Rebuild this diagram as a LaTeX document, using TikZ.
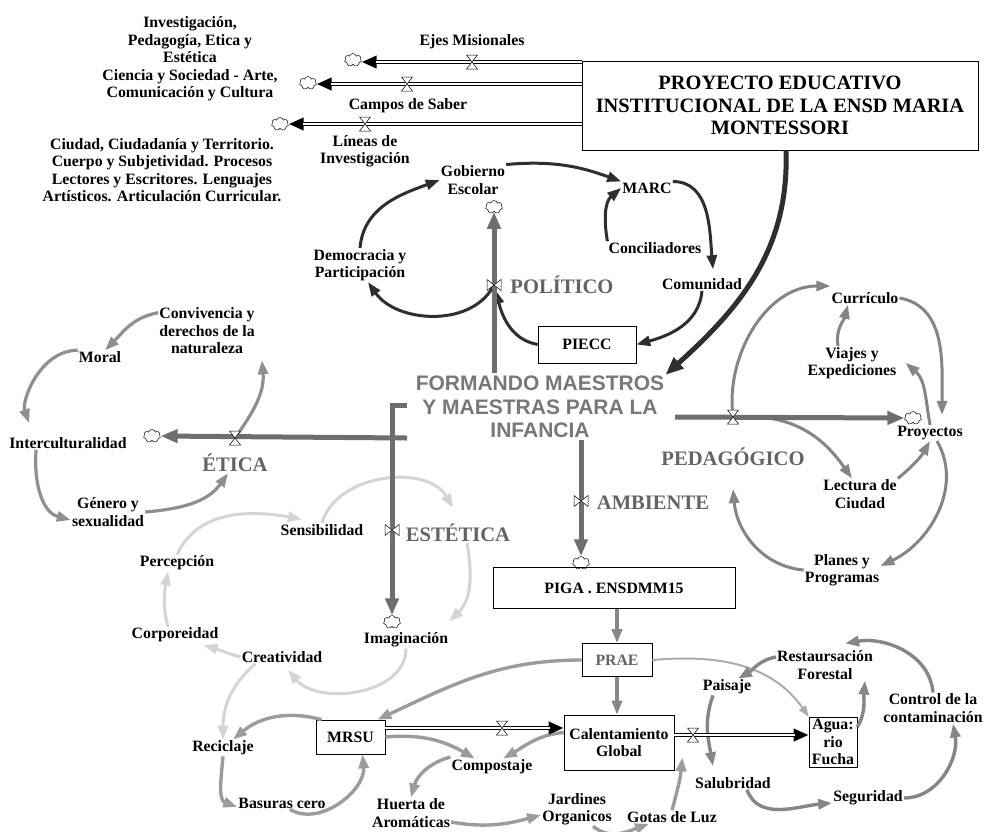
\documentclass[tikz,border=0pt]{standalone}
\usepackage{fontspec}
\setmainfont{Liberation Serif}
\newfontfamily\arialfont{Liberation Sans}
\usetikzlibrary{arrows.meta,shapes.symbols}

\definecolor{polc}{HTML}{2E2E2E}
\definecolor{pipeg}{HTML}{6E6E6E}
\definecolor{secg}{HTML}{646464}
\definecolor{mainc}{HTML}{787878}
\definecolor{etic}{HTML}{8F8F8F}
\definecolor{estc}{HTML}{D4D4D4}
\definecolor{pedc}{HTML}{858585}
\definecolor{botc}{HTML}{9C9C9C}
\definecolor{botd}{HTML}{868686}
\definecolor{lightc}{HTML}{ABABAB}

\begin{document}
\begin{tikzpicture}[x=1pt,y=1pt]
  \tikzset{
    lbl/.style={font=\bfseries\fontsize{15.8}{17.5}\selectfont, align=center, inner sep=1pt},
    seclbl/.style={font=\bfseries\fontsize{20.6}{22}\selectfont, text=secg, inner sep=1pt},
    stock/.style={draw, line width=0.6pt, font=\bfseries\fontsize{15.8}{17.5}\selectfont, align=center, inner sep=1pt},
    cloudy/.style={cloud, cloud puffs=7, draw, line width=0.5pt, fill=white, minimum width=17pt, minimum height=13pt, inner sep=0pt, aspect=1.4},
    pipe/.style={line width=3.6pt, -{Triangle[length=15pt,width=12pt]}, postaction={draw=white, line width=1.6pt, -, shorten >=14pt}},
    mflow/.style={color=pipeg, line width=5pt, -{Triangle[length=17pt,width=13pt]}},
    pol/.style={color=polc, line width=3pt, -{Triangle[length=14pt,width=10pt]}},
    peiarr/.style={color=polc, line width=5pt, -{Triangle[length=18pt,width=14pt]}},
    eti/.style={color=etic, line width=3.2pt, -{Triangle[length=14pt,width=10pt]}},
    est/.style={color=estc, line width=3pt, -{Triangle[length=14pt,width=10pt]}},
    ped/.style={color=pedc, line width=3pt, -{Triangle[length=14pt,width=10pt]}},
    bot/.style={color=botc, line width=3.4pt, -{Triangle[length=14pt,width=10pt]}},
    botr/.style={color=botd, line width=3.4pt, -{Triangle[length=14pt,width=10pt]}},
    thinarr/.style={color=lightc, line width=2pt, -{Triangle[length=11pt,width=8pt]}},
    valveh/.pic={\draw[black, line width=0.5pt, fill=white] (-5.5,7) -- (5.5,7) -- (-5.5,-7) -- (5.5,-7) -- cycle;},
    valvev/.pic={\draw[black, line width=0.5pt, fill=white] (-7,5.5) -- (-7,-5.5) -- (7,5.5) -- (7,-5.5) -- cycle;}
  }
  \path[use as bounding box, fill=white] (0,0) rectangle (984,-831);

  % proyecto educativo and its three outflows
  \node[lbl] (ejestxt) at (190,-40) {Investigación,\\ Pedagogía, Etica y\\ Estética};
  \node[lbl] (camptxt) at (190,-85) {Ciencia y Sociedad - Arte,\\ Comunicación y Cultura};
  \node[lbl] (lintxt) at (162,-170) {Ciudad, Ciudadanía y Territorio.\\ Cuerpo y Subjetividad. Procesos\\ Lectores y Escritores. Lenguajes\\ Artísticos. Articulación Curricular.};
  \node[stock, font=\bfseries\fontsize{20.4}{22.5}\selectfont, minimum width=396pt, minimum height=89pt] (pei) at (780,-105.5) {PROYECTO EDUCATIVO\\ INSTITUCIONAL DE LA ENSD MARIA\\ MONTESSORI};
  \node[cloudy] (ejescl) at (353,-60) {};
  \node[cloudy] (campcl) at (308,-83) {};
  \node[cloudy] (lincl) at (280,-124) {};
  \coordinate (vejes) at (472,-62);
  \coordinate (vcamp) at (407,-84);
  \coordinate (vlin) at (365,-124);
  \draw[pipe] (pei.west |- vejes) -- (ejescl.east |- vejes);
  \draw[pipe] (pei.west |- vcamp) -- (campcl.east |- vcamp);
  \draw[pipe] (pei.west |- vlin) -- (lincl.east |- vlin);
  \pic at (vejes) {valveh};
  \pic at (vcamp) {valveh};
  \pic at (vlin) {valveh};
  \node[lbl] (ejesl) at (472,-42) {Ejes Misionales};
  \node[lbl] (campl) at (408,-106) {Campos de Saber};
  \node[lbl] (linl) at (365,-151) {Líneas de\\ Investigación};

  % central node
  \node[font=\arialfont\bfseries\fontsize{21}{23.5}\selectfont, text=mainc, align=center, inner sep=1pt] (main) at (540,-407) {FORMANDO MAESTROS\\ Y MAESTRAS PARA LA\\ INFANCIA};
  \path[peiarr] ([xshift=6pt]pei.south) edge[out=-88,in=42] (main.north east);

  % politico
  \node[lbl] (gob) at (473,-180) {Gobierno\\ Escolar};
  \node[cloudy] (gobcl) at (494,-207) {};
  \node[lbl] (marc) at (647,-188) {MARC};
  \node[lbl] (conc) at (655,-248) {Conciliadores};
  \node[lbl] (comu) at (702,-284) {Comunidad};
  \node[lbl] (demo) at (360,-265) {Democracia y\\ Participación};
  \node[stock, minimum width=98pt, minimum height=37pt] (piecc) at (587,-344.5) {PIECC};
  \node[seclbl] (polit) at (562,-285) {POLÍTICO};
  \coordinate (vpol) at (494,-285);
  \coordinate (polsrc) at (494,-373);
  \path[pol] (demo.north) edge[out=85,in=200] (gob.west)
    (gob.north east) edge[out=5,in=160] (marc.north west)
    (conc.north west) edge[out=100,in=220] (marc.west)
    (marc.north east) edge[out=0,in=95] ([xshift=11pt,yshift=8pt]comu.north)
    (comu.south) edge[out=-95,in=15] (piecc.east)
    (piecc.west) edge[out=170,in=-75,shorten >=5pt] (vpol)
    (vpol) edge[out=-120,in=-55,shorten <=3pt] ([xshift=8pt]demo.south);

  % etica
  \node[lbl] (conv) at (207,-331) {Convivencia y\\ derechos de la\\ naturaleza};
  \node[lbl] (moral) at (100,-357) {Moral};
  \node[lbl] (inter) at (68,-443) {Interculturalidad};
  \node[lbl] (gen) at (108,-512) {Género y\\ sexualidad};
  \node[seclbl] (etica) at (235,-463) {ÉTICA};
  \node[cloudy] (eticl) at (152,-436) {};
  \coordinate (veti) at (235,-438);
  \coordinate (etisrc) at (407,-438);
  \path[eti] (veti) edge[out=55,in=-85,shorten <=4pt] ([xshift=6pt,yshift=-5pt]conv.south east)
    ([yshift=-6pt]conv.north west) edge[out=190,in=45] ([xshift=5pt]moral.north)
    (moral.north west) edge[out=180,in=110,shorten >=14pt] ([xshift=-34pt]inter.north)
    ([xshift=28pt]inter.south west) edge[out=-95,in=165] ([yshift=-8pt]gen.west)
    (gen.east) edge[out=5,in=235] ([xshift=-7pt]etica.south);

  % estetica
  \node[lbl] (sens) at (322,-530) {Sensibilidad};
  \node[seclbl] (este) at (458,-533) {ESTÉTICA};
  \node[lbl] (imag) at (406,-640) {Imaginación};
  \node[cloudy] (imagcl) at (392,-622) {};
  \node[lbl] (creat) at (282,-657) {Creatividad};
  \node[lbl] (corp) at (175,-635) {Corporeidad};
  \node[lbl] (perc) at (177,-563) {Percepción};
  \node[lbl] (recic) at (223,-748) {Reciclaje};
  \coordinate (vest) at (392,-530);
  \coordinate (estsrc) at (407,-405);
  \path[est] (sens.north) edge[out=75,in=120] ([xshift=-5pt,yshift=15pt]este.north)
    ([xshift=9pt]este.south) edge[out=-80,in=45] ([yshift=10pt]imag.north east)
    (imag.south) edge[out=-90,in=-50] ([xshift=6pt,yshift=-6pt]creat.south)
    (creat.west) edge[out=165,in=-15] ([xshift=-16pt,yshift=-2pt]corp.south east)
    ([xshift=-7pt]corp.north) edge[out=105,in=-100] ([xshift=-9pt]perc.south)
    (perc.north) edge[out=65,in=170] ([xshift=-20pt,yshift=4pt]sens.north)
    ([xshift=15pt]creat.south west) edge[out=-140,in=90] (recic.north);

  % pedagogico
  \node[lbl] (curr) at (865,-298) {Currículo};
  \node[lbl] (viaj) at (852,-363) {Viajes y\\ Expediciones};
  \node[lbl] (proy) at (930,-433) {Proyectos};
  \node[cloudy] (proycl) at (913,-418) {};
  \node[lbl] (lect) at (860,-494) {Lectura de\\ Ciudad};
  \node[lbl] (plan) at (842,-570) {Planes y\\ Programas};
  \node[seclbl] (pedag) at (733,-457) {PEDAGÓGICO};
  \coordinate (vped) at (733,-417);
  \coordinate (pedsrc) at (675,-417);
  \path[ped] (vped) edge[out=95,in=180,shorten <=6pt] ([yshift=12pt]curr.west)
    (curr.east) edge[out=-10,in=90] ([xshift=12pt,yshift=10pt]proy.north)
    (proy.north) edge[out=100,in=-40] ([xshift=8pt]viaj.east)
    ([xshift=-14pt]viaj.north) edge[out=100,in=-105] ([xshift=-17pt]curr.south)
    ([xshift=27pt]vped) edge[out=-5,in=125] ([xshift=-8pt]lect.north)
    (lect.north east) edge[out=40,in=-120] (proy.south)
    ([xshift=7pt]proy.south) edge[out=-60,in=25] ([yshift=4pt]plan.east)
    (plan.west) edge[out=175,in=-85] ([yshift=-22pt]pedag.south);

  % ambiente
  \node[seclbl] (amb) at (653,-503) {AMBIENTE};
  \node[cloudy] (ambcl) at (581,-563) {};
  \coordinate (vamb) at (581,-501);
  \coordinate (ambsrc) at (581,-440);
  \node[stock, minimum width=242pt, minimum height=41pt] (piga) at (614,-588) {PIGA . ENSDMM15};
  \node[stock, minimum width=70pt, minimum height=33pt, text=secg] (prae) at (617,-660) {PRAE};
  \node[stock, minimum width=110pt, minimum height=55pt] (cal) at (619,-742.5) {Calentamiento\\ Global};
  \node[stock, minimum width=69pt, minimum height=34pt] (mrsu) at (350.5,-737) {MRSU};
  \node[stock, minimum width=48pt, minimum height=50pt, inner sep=0pt] (agua) at (833,-742) {Agua:\\ rio\\ Fucha};
  \node[lbl] (basu) at (282,-803) {Basuras cero};
  \node[lbl] (comp) at (492,-767) {Compostaje};
  \node[lbl] (huer) at (411,-813) {Huerta de\\ Aromáticas};
  \node[lbl] (jard) at (577,-809) {Jardines\\ Organicos};
  \node[lbl] (gota) at (672,-817) {Gotas de Luz};
  \node[lbl] (pais) at (727,-687) {Paisaje};
  \node[lbl] (rest) at (825,-665) {Restaursación\\ Forestal};
  \node[lbl] (cont) at (933,-708) {Control de la\\ contaminación};
  \node[lbl] (salu) at (733,-783) {Salubridad};
  \node[lbl] (segu) at (868,-798) {Seguridad};
  \coordinate (vmr) at (502,-728);
  \coordinate (vca) at (693,-735);
  \path[botr] (piga.south -| prae.north) edge (prae.north)
    (prae.south) edge (prae.south |- cal.north);
  \path[bot] (prae.west) edge[out=180,in=25] ([xshift=-8pt]mrsu.north east)
    ([xshift=6pt]mrsu.north west) edge[out=165,in=40] ([xshift=10pt]recic.north)
    (recic.south) edge[out=-95,in=160] ([yshift=-4pt]basu.west)
    ([xshift=8pt]basu.south) edge[out=-30,in=-85] ([xshift=12pt]mrsu.south)
    (mrsu.east) edge[out=5,in=150] ([xshift=-17pt]comp.north)
    ([yshift=10pt]cal.west) edge[out=185,in=30] ([xshift=11pt]comp.north)
    ([yshift=10pt]comp.west) edge[out=195,in=75] (huer.north)
    ([yshift=-9pt]huer.east) edge[out=-10,in=195] ([yshift=-6pt]jard.west)
    ([xshift=16pt]jard.south) edge[out=-40,in=200] ([xshift=23pt]gota.south west)
    (gota.north) edge[out=75,in=-95] ([xshift=8pt,yshift=13pt]cal.south east);
  \path[thinarr] (prae.east) edge[out=5,in=125] (agua.north west);
  \path[botr] ([yshift=15pt]agua.east) edge[out=60,in=-95] ([xshift=40pt]rest.south)
    ([yshift=8pt]rest.west) edge[out=190,in=30] ([xshift=11pt]pais.north)
    ([xshift=-14pt]pais.south) edge[out=-110,in=100] ([xshift=-20pt,yshift=10pt]salu.north)
    ([xshift=14pt]salu.south) edge[out=-70,in=185] ([yshift=-5pt]segu.west)
    (segu.east) edge[out=0,in=-80] ([xshift=20pt]cont.south)
    (cont.north) edge[out=95,in=10] ([xshift=20pt,yshift=6pt]rest.north);
  \draw[pipe] (mrsu.east |- vmr) -- (cal.west |- vmr);
  \draw[pipe] (cal.east |- vca) -- (agua.west |- vca);
  \pic at (vmr) {valveh};
  \pic at (vca) {valveh};

  % main flows out of the central node
  \draw[mflow] (polsrc) -- (gobcl.south);
  \draw[mflow] (etisrc) -- (eticl.east);
  \draw[mflow] (estsrc) -| (imagcl.north);
  \draw[mflow] (pedsrc) -- (proycl.west);
  \draw[mflow] (ambsrc) -- (ambcl.north);
  \pic at (vpol) {valvev};
  \pic at (veti) {valveh};
  \pic at (vest) {valvev};
  \pic at (vped) {valveh};
  \pic at (vamb) {valvev};
\end{tikzpicture}
\end{document}
